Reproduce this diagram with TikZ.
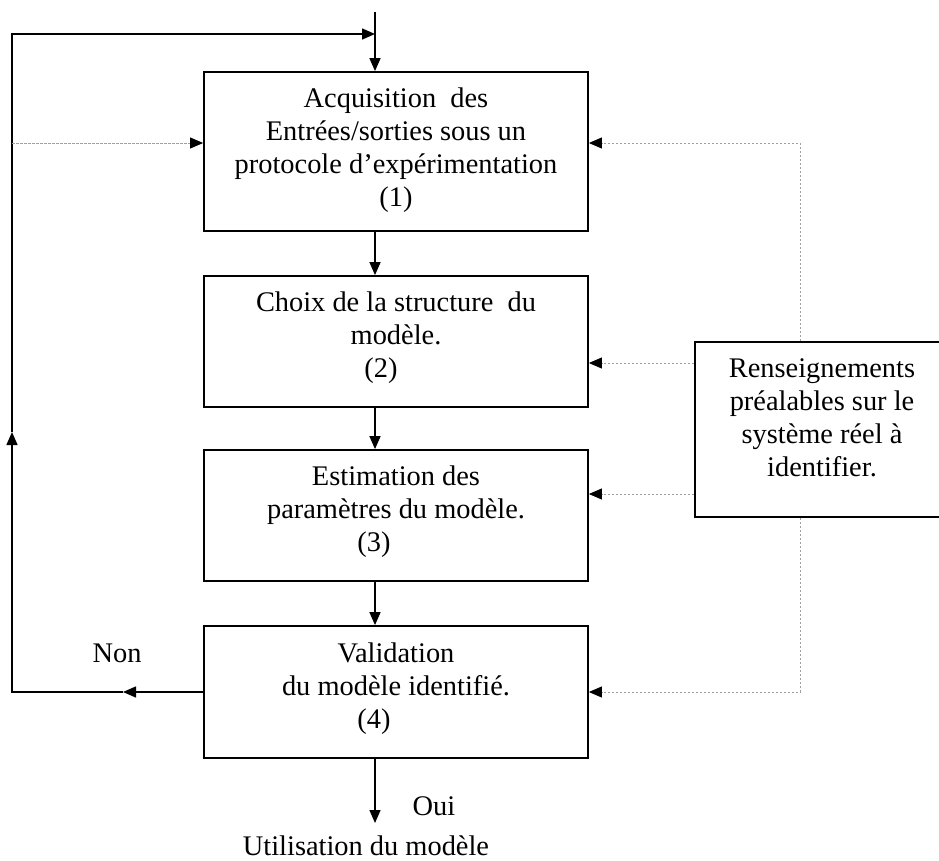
\documentclass[tikz,border=0pt]{standalone}
\usepackage{fontspec}
\setmainfont{Liberation Serif}
\usetikzlibrary{arrows.meta}
\begin{document}
\begin{tikzpicture}[x=1pt,y=-1pt,
  boxst/.style={draw, line width=1.8pt, minimum width=384pt, inner sep=0pt},
  txt/.style={align=center, font=\fontsize{28.4pt}{33pt}\selectfont, inner sep=0pt},
  tip/.style={-{Triangle[length=13pt,width=11pt,color=black]}},
  solidln/.style={line width=1.4pt, black},
  dotln/.style={line width=0.9pt, gray!75, dash pattern=on 2.5pt off 1.5pt}]
\useasboundingbox (0,0) rectangle (939,861);
% boxes
\node[boxst, minimum height=159pt] (b1) at (396,151.5) {};
\node[boxst, minimum height=131pt] (b2) at (396,341.5) {};
\node[boxst, minimum height=131pt] (b3) at (396,515.5) {};
\node[boxst, minimum height=132pt] (b4) at (396,692) {};
\node[boxst, minimum width=254pt, minimum height=175pt] (b5) at (822,429.5) {};
% texts
\node[txt] (t1) at (396,150.5) {Acquisition\ \ des\\Entrées/sorties sous un\\protocole d’expérimentation\\(1)};
\node[txt] (t2) at (396,338) {Choix de la structure\ \ du\\modèle.\\(2)\hspace*{30pt}};
\node[txt] (t3) at (396,512) {Estimation des\\paramètres du modèle.\\(3)\hspace*{44pt}};
\node[txt] (t4) at (396,688.5) {Validation\\du modèle identifié.\\(4)\hspace*{44pt}};
\node[txt] (t5) at (822,418) {Renseignements\\préalables sur le\\système réel à\\identifier.};
\node[txt] (non) at (117,653) {Non};
\node[txt] (oui) at (434,806) {Oui};
\node[txt] (util) at (366,846) {Utilisation du modèle};
% coordinates
\coordinate (top) at (375,12);
\coordinate (tj) at (375,34);
\coordinate (lt) at (12,34);
\coordinate (lb) at (12,692);
\coordinate (lmid) at (12,432);
\coordinate (nonmid) at (123,692);
\coordinate (dl) at (12,143);
\coordinate (dr) at (800,143);
\coordinate (y2) at (0,363);
\coordinate (y3) at (0,494);
\coordinate (bot) at (375,823);
% main flow
\draw[solidln, tip] (top) -- (top |- b1.north);
\draw[solidln, tip] (b1.south -| top) -- (b2.north -| top);
\draw[solidln, tip] (b2.south -| top) -- (b3.north -| top);
\draw[solidln, tip] (b3.south -| top) -- (b4.north -| top);
\draw[solidln, tip] (b4.south -| top) -- (bot);
% loop back
\draw[solidln, tip] (b4.west) -- (nonmid);
\draw[solidln, tip] (nonmid) -- (lb) -- (lmid);
\draw[solidln, tip] (lmid) -- (lt) -- (tj);
% dotted
\draw[dotln, tip] (dl) -- (dl -| b1.west);
\draw[dotln, tip] (b5.north -| dr) -- (dr) -- (dr -| b1.east);
\draw[dotln, tip] (b5.west |- y2) -- (b2.east |- y2);
\draw[dotln, tip] (b5.west |- y3) -- (b3.east |- y3);
\draw[dotln, tip] (b5.south -| dr) -- (dr |- b4.east) -- (b4.east);
\end{tikzpicture}
\end{document}
